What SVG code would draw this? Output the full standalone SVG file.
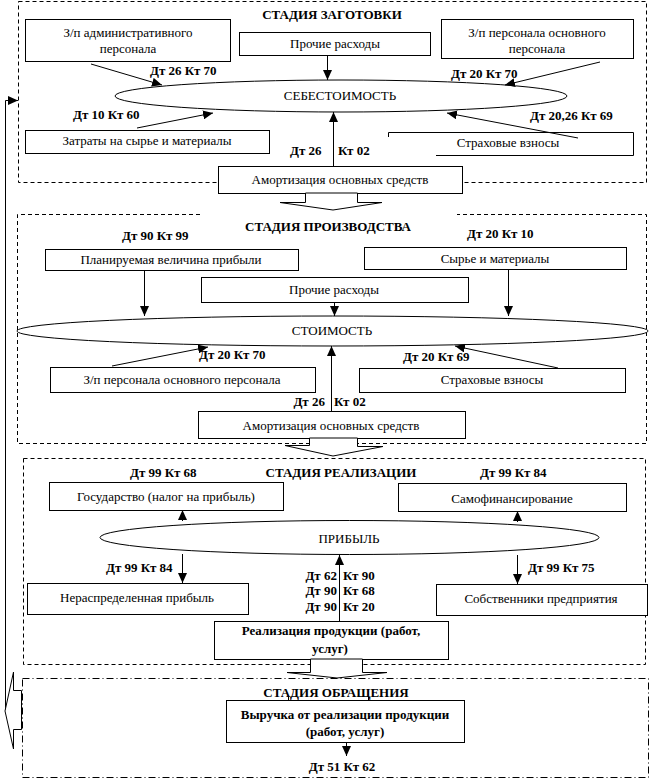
<svg xmlns="http://www.w3.org/2000/svg" width="652" height="784" viewBox="0 0 652 784">
<style>
.frame{fill:none;stroke:#000;stroke-width:1;stroke-dasharray:4 3}
.dd{stroke-dasharray:7 3 1 3}
.box{fill:#fff;stroke:#000;stroke-width:1}
.t{font-family:'Liberation Serif','DejaVu Serif',serif;font-size:13px;text-anchor:middle;fill:#000}
.b{font-weight:bold}
.s{text-anchor:start}
.en{text-anchor:end}
.conn line,.conn polyline{stroke:#000;stroke-width:1;fill:none;marker-end:url(#ah)}
.blk{fill:#fff;stroke:#000;stroke-width:1}
</style>
<defs>
<marker id="ah" markerUnits="userSpaceOnUse" markerWidth="10" markerHeight="9" refX="10" refY="4.5" orient="auto"><path d="M0,0 L10,4.5 L0,9 z" fill="#000"/></marker>
</defs>
<rect width="652" height="784" fill="#fff"/>
<g id="frames">
<rect class="frame" x="18.5" y="1.5" width="628" height="181"/>
<path class="frame" d="M200,214.5 H17.5 V443.5 H646.5 V214.5 H457"/>
<rect class="frame" x="23.5" y="458.5" width="622" height="206"/>
<rect class="frame dd" x="22.5" y="678.5" width="626" height="99"/>
</g>
<g id="stage1" font-family="Liberation Serif, serif">
<text class="t b" x="332" y="19">СТАДИЯ ЗАГОТОВКИ</text>
<g id="n-zp-adm"><rect class="box" x="25.5" y="19.5" width="205" height="42"/><text class="t" x="128" y="37">З/п административного</text><text class="t" x="128" y="53">персонала</text></g>
<g id="n-prochie1"><rect class="box" x="239.5" y="32.5" width="191" height="23"/><text class="t" x="335" y="48">Прочие расходы</text></g>
<g id="n-zp-osn1"><rect class="box" x="441.5" y="19.5" width="192" height="39"/><text class="t" x="537" y="37">З/п персонала основного</text><text class="t" x="537" y="53">персонала</text></g>
<g id="n-sebest"><ellipse class="box" cx="341" cy="96" rx="226" ry="16"/><text class="t" x="340" y="100">СЕБЕСТОИМОСТЬ</text></g>
<g id="n-zatraty"><rect class="box" x="25.5" y="130.5" width="244" height="23"/><text class="t" x="147" y="145">Затраты на сырье и материалы</text></g>
<g id="n-strah1"><path d="M388.5,137 V132.5 H633.5 V155.5 H436" fill="none" stroke="#000"/><text class="t" x="508" y="147">Страховые взносы</text></g>
<g id="n-amort1"><rect class="box" x="218.5" y="166.5" width="244" height="27"/><text class="t" x="340" y="184">Амортизация основных средств</text></g>
</g>
<g id="stage2">
<text class="t b" x="328" y="231">СТАДИЯ ПРОИЗВОДСТВА</text>
<g id="n-plan"><rect class="box" x="45.5" y="249.5" width="253" height="21"/><text class="t" x="171" y="264">Планируемая величина прибыли</text></g>
<g id="n-syrie"><rect class="box" x="364.5" y="247.5" width="262" height="22"/><text class="t" x="495" y="263">Сырье и материалы</text></g>
<g id="n-prochie2"><rect class="box" x="201.5" y="277.5" width="267" height="25"/><text class="t" x="334" y="294">Прочие расходы</text></g>
<g id="n-stoim"><ellipse class="box" cx="332.5" cy="331" rx="315.5" ry="15"/><text class="t" x="332" y="335">СТОИМОСТЬ</text></g>
<g id="n-zp-osn2"><rect class="box" x="50.5" y="367.5" width="265" height="25"/><text class="t" x="182" y="384">З/п персонала основного персонала</text></g>
<g id="n-strah2"><rect class="box" x="359.5" y="368.5" width="266" height="24"/><text class="t" x="492" y="384">Страховые взносы</text></g>
<g id="n-amort2"><rect class="box" x="198.5" y="411.5" width="267" height="27"/><text class="t" x="331" y="430">Амортизация основных средств</text></g>
</g>
<g id="stage3">
<text class="t b" x="341" y="477">СТАДИЯ РЕАЛИЗАЦИИ</text>
<g id="n-gos"><rect class="box" x="49.5" y="482.5" width="234" height="28"/><text class="t" x="166" y="501">Государство (налог на прибыль)</text></g>
<g id="n-samofin"><rect class="box" x="398.5" y="483.5" width="228" height="28"/><text class="t" x="512" y="503">Самофинансирование</text></g>
<g id="n-pribyl"><ellipse class="box" cx="349.5" cy="537.5" rx="249.5" ry="17"/><text class="t" x="349" y="543">ПРИБЫЛЬ</text></g>
<g id="n-neraspr"><rect class="box" x="27.5" y="583.5" width="221" height="31"/><text class="t" x="137" y="602">Нераспределенная прибыль</text></g>
<g id="n-sobstv"><rect class="box" x="436.5" y="584.5" width="211" height="31"/><text class="t" x="541" y="603">Собственники предприятия</text></g>
<g id="n-realiz"><rect class="box" x="214.5" y="621.5" width="234" height="38"/><text class="t b" x="331" y="635">Реализация продукции (работ,</text><text class="t b" x="330" y="653">услуг)</text></g>
</g>
<g id="stage4">
<text class="t b" x="336" y="697">СТАДИЯ ОБРАЩЕНИЯ</text>
<g id="n-vyruchka"><rect class="box" x="226.5" y="700.5" width="238" height="42"/><text class="t b" x="345" y="719">Выручка от реализации продукции</text><text class="t b" x="345" y="736">(работ, услуг)</text></g>
</g>
<g id="connectors">
<g class="conn">
<line x1="91" y1="64" x2="162" y2="85"/>
<line x1="327.5" y1="55" x2="327.5" y2="80"/>
<line x1="600" y1="62" x2="505" y2="85"/>
<line x1="137" y1="128" x2="213" y2="113"/>
<line x1="578" y1="138" x2="447" y2="113"/>
<line x1="333.5" y1="166" x2="333.5" y2="112"/>
<line x1="144.5" y1="270" x2="144.5" y2="316"/>
<line x1="334.5" y1="302" x2="334.5" y2="316"/>
<line x1="508.5" y1="269" x2="508.5" y2="316"/>
<line x1="112" y1="366" x2="208" y2="347"/>
<line x1="558" y1="368" x2="455" y2="346"/>
<line x1="331.5" y1="411" x2="331.5" y2="346"/>
<line x1="182.5" y1="521" x2="182.5" y2="510"/>
<line x1="517.5" y1="522" x2="517.5" y2="511"/>
<line x1="182.5" y1="554" x2="182.5" y2="583"/>
<line x1="517.5" y1="555" x2="517.5" y2="584"/>
<line x1="339.5" y1="621" x2="339.5" y2="555"/>
<line x1="346.5" y1="742" x2="346.5" y2="756"/>
<polyline points="5.5,710 5.5,100.5 18,100.5"/>
</g>
<polygon class="blk" points="305.5,193 305.5,202.5 280,202.5 333,210 382,202.5 357.5,202.5 357.5,193"/>
<polygon class="blk" points="309.5,438 309.5,445.5 285,445.5 333,456 383,446.5 357.5,446.5 357.5,438"/>
<polygon class="blk" points="310.5,659 310.5,672.5 287,672.5 337,678 387,672.5 362.5,672.5 362.5,659"/>
<polygon class="blk" points="21.5,690.5 13.5,690.5 13.5,672 5,711 13.5,749 13.5,729.5 21.5,729.5"/>
<line x1="288.5" y1="696" x2="288.5" y2="701" stroke="#000"/>
<line x1="368.5" y1="696" x2="368.5" y2="701" stroke="#000"/>
</g>
<g id="labels">
<text class="t b s" x="150" y="75">Дт 26 Кт 70</text>
<text class="t b s" x="451" y="78">Дт 20 Кт 70</text>
<text class="t b s" x="73" y="119">Дт 10 Кт 60</text>
<text class="t b s" x="530" y="120">Дт 20,26 Кт 69</text>
<text class="t b s" x="290" y="155">Дт 26</text>
<text class="t b s" x="338" y="155">Кт 02</text>
<text class="t b s" x="122" y="240">Дт 90 Кт 99</text>
<text class="t b s" x="467" y="238">Дт 20 Кт 10</text>
<text class="t b s" x="199" y="359">Дт 20 Кт 70</text>
<text class="t b s" x="403" y="361">Дт 20 Кт 69</text>
<text class="t b en" x="325" y="406">Дт 26</text>
<text class="t b s" x="334" y="406">Кт 02</text>
<text class="t b s" x="130" y="477">Дт 99 Кт 68</text>
<text class="t b s" x="480" y="477">Дт 99 Кт 84</text>
<text class="t b s" x="106" y="572">Дт 99 Кт 84</text>
<text class="t b s" x="528" y="572">Дт 99 Кт 75</text>
<text class="t b en" x="337" y="580">Дт 62</text>
<text class="t b en" x="337" y="595">Дт 90</text>
<text class="t b en" x="337" y="611">Дт 90</text>
<text class="t b s" x="343" y="580">Кт 90</text>
<text class="t b s" x="343" y="595">Кт 68</text>
<text class="t b s" x="343" y="611">Кт 20</text>
<text class="t b" x="342" y="771">Дт 51 Кт 62</text>
</g>
</svg>
